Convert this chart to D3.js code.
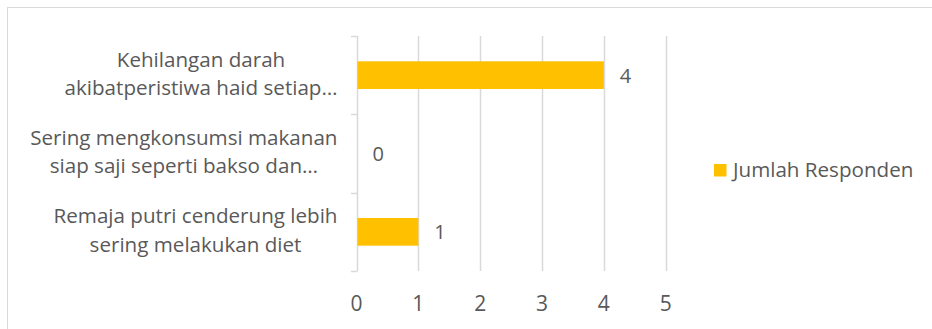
<!DOCTYPE html>
<html>
<head>
<meta charset="utf-8">
<script src="https://cdn.jsdelivr.net/npm/d3@7"></script>
<style>
  html, body { margin: 0; padding: 0; background: #fff; }
  svg { display: block; }
  text { font-family: "Open Sans", Lato, sans-serif; fill: #595959; }
</style>
</head>
<body>
<div id="chart"></div>
<script>
// Category labels (top to bottom), each wrapped onto two lines
const categories = [
  ["Kehilangan darah", "akibatperistiwa haid setiap…"],
  ["Sering mengkonsumsi makanan", "siap saji seperti bakso dan…"],
  ["Remaja putri cenderung lebih", "sering melakukan diet"]
];
const values = [4, 0, 1];
const seriesName = "Jumlah Responden";
const xTicks = [0, 1, 2, 3, 4, 5];

const W = 932, H = 329;
const plot = { left: 356.5, right: 665.7, top: 36, bottom: 271 };
const gridColor = "#d9d9d9";
const barColor = "#ffc000";

const svg = d3.select("#chart").append("svg")
  .attr("width", W).attr("height", H);

// chart frame
svg.append("rect")
  .attr("x", 7.5).attr("y", 7.5)
  .attr("width", W + 10).attr("height", H + 10)
  .attr("fill", "#fff").attr("stroke", gridColor).attr("stroke-width", 1);

const x = d3.scaleLinear().domain([0, 5]).range([plot.left, plot.right]);
const idx = categories.map((d, i) => i);
const pad = 0.646;
const y = d3.scaleBand().domain(idx).range([plot.top, plot.bottom])
  .paddingInner(pad).paddingOuter(pad / 2);
const band = d3.scaleBand().domain(idx).range([plot.top, plot.bottom]);

// vertical gridlines
svg.append("g")
  .selectAll("line").data(xTicks.filter(t => t > 0)).join("line")
  .attr("x1", d => Math.round(x(d)) + 0.5).attr("x2", d => Math.round(x(d)) + 0.5)
  .attr("y1", plot.top).attr("y2", plot.bottom)
  .attr("stroke", gridColor).attr("stroke-width", 1.5);

// category axis with outward ticks at band boundaries
const yAxis = svg.append("g");
yAxis.append("line")
  .attr("x1", Math.round(x(0)) + 0.5).attr("x2", Math.round(x(0)) + 0.5)
  .attr("y1", plot.top).attr("y2", plot.bottom)
  .attr("stroke", gridColor).attr("stroke-width", 1.5);
const bounds = idx.map(i => band(i)).concat([plot.bottom]);
yAxis.selectAll("line.tk").data(bounds).join("line").attr("class", "tk")
  .attr("x1", Math.round(x(0)) - 6).attr("x2", Math.round(x(0)) + 0.5)
  .attr("y1", d => Math.round(d) + 0.5).attr("y2", d => Math.round(d) + 0.5)
  .attr("stroke", gridColor).attr("stroke-width", 1.5);

// bars
svg.append("g").selectAll("rect").data(values).join("rect")
  .attr("x", x(0) + 1)
  .attr("y", (d, i) => y(i))
  .attr("width", d => Math.max(0, x(d) - x(0) - 1))
  .attr("height", y.bandwidth())
  .attr("fill", barColor);

// value labels
svg.append("g").selectAll("text").data(values).join("text")
  .attr("x", d => x(d) + 16)
  .attr("y", (d, i) => band(i) + band.bandwidth() / 2 + 7.5)
  .attr("font-size", 20)
  .text(d => d);

// x tick labels
svg.append("g").selectAll("text").data(xTicks).join("text")
  .attr("x", d => x(d))
  .attr("y", 310.5)
  .attr("text-anchor", "middle")
  .attr("font-size", 21)
  .text(d => d);

// category labels: two centred lines, block right-aligned near the axis
const catG = svg.append("g");
categories.forEach((lines, i) => {
  const g = catG.append("g");
  const cy = band(i) + band.bandwidth() / 2;
  const ts = lines.map((s, k) => g.append("text")
    .attr("y", cy - 8.5 + k * 28.3)
    .attr("font-size", 20.6)
    .attr("text-anchor", "middle")
    .text(s));
  const maxW = d3.max(ts, t => t.node().getComputedTextLength());
  const right = x(0) - 19;
  ts.forEach(t => t.attr("x", right - maxW / 2));
});

// legend
const lg = svg.append("g");
lg.append("rect").attr("x", 714).attr("y", 164).attr("width", 12.5).attr("height", 12.5)
  .attr("fill", barColor);
lg.append("text").attr("x", 733).attr("y", 177).attr("font-size", 20.6).text(seriesName);
</script>
</body>
</html>
